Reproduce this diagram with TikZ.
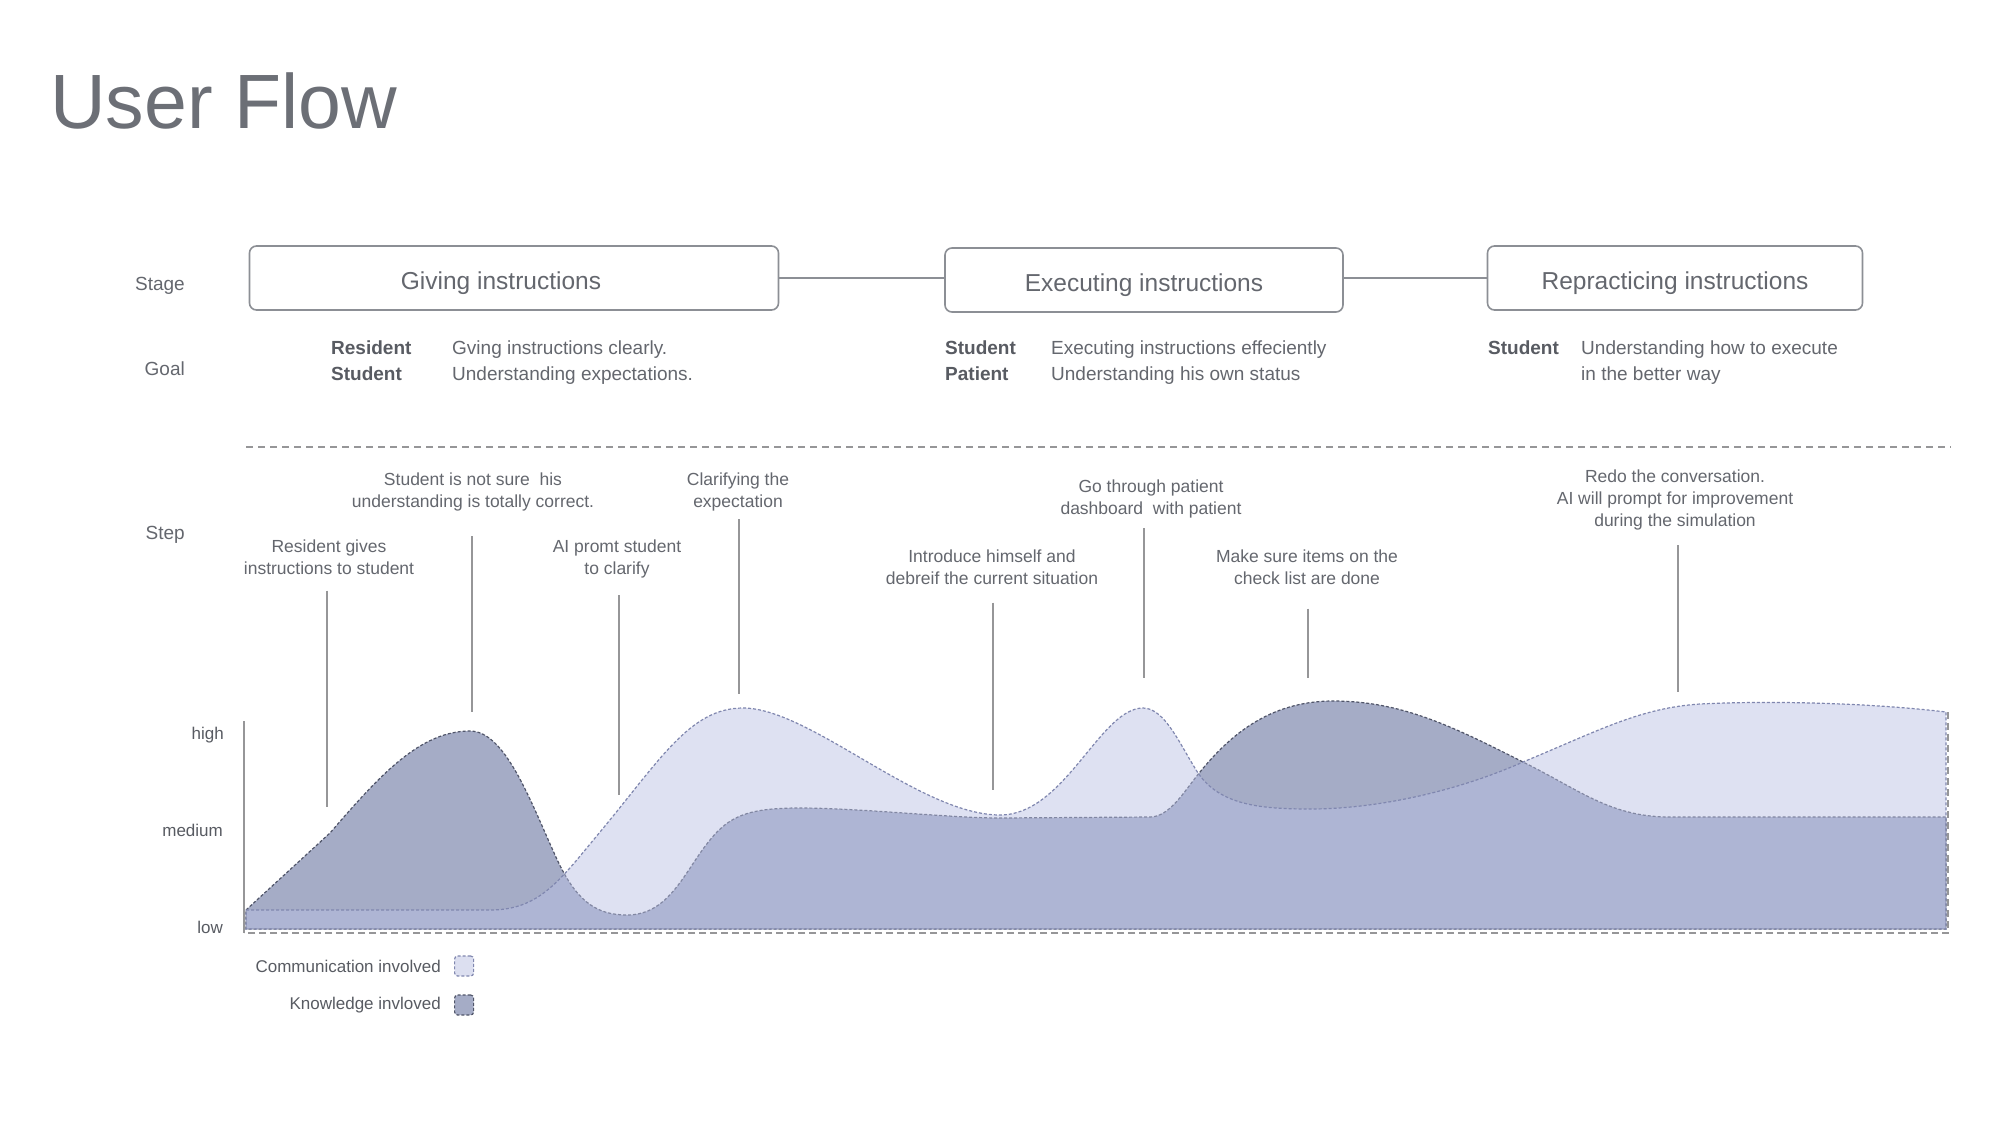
\documentclass[tikz,border=0pt]{standalone}
\usepackage{fontspec}
\setmainfont{Liberation Sans}
\usepackage{tikz}
\usetikzlibrary{positioning}

\definecolor{titlegrey}{RGB}{108,111,118}
\definecolor{txtgrey}{RGB}{100,103,110}
\definecolor{namegrey}{RGB}{88,91,98}
\definecolor{boxgrey}{RGB}{140,143,149}
\definecolor{linegrey}{RGB}{150,150,152}
\definecolor{kfill}{RGB}{165,172,198}
\definecolor{kline}{RGB}{80,85,105}
\definecolor{cfill}{RGB}{186,192,228}
\definecolor{cswatch}{RGB}{220,223,240}
\definecolor{cline}{RGB}{128,135,175}

\begin{document}
\begin{tikzpicture}[x=1pt, y=-1pt,  % 1pt 对应参考图的一个像素, y 轴向下
    stagebox/.style={draw=boxgrey, line width=1.6pt, rounded corners=7pt, minimum height=64pt,
        inner sep=0pt, text height=28pt, text depth=5pt, text=txtgrey, font=\fontsize{24.5}{29}\selectfont},
    rowlbl/.style={anchor=east, inner sep=0pt, text=txtgrey, font=\fontsize{19}{23}\selectfont},
    who/.style={anchor=base west, inner sep=0pt, text=namegrey, font=\bfseries\fontsize{19}{23}\selectfont},
    goaltxt/.style={anchor=base west, inner sep=0pt, text=txtgrey, font=\fontsize{19}{23}\selectfont},
    steplbl/.style={align=center, inner sep=0pt, text=txtgrey, font=\fontsize{17.5}{22}\selectfont},
    stepline/.style={draw=linegrey, line width=1.3pt},
    level/.style={anchor=east, inner sep=0pt, text=namegrey, font=\fontsize{17}{20}\selectfont},
    knowarea/.style={fill=kfill, draw=kline, line width=1.2pt, dash pattern=on 3pt off 2pt},
    commarea/.style={fill=cfill, fill opacity=0.47, draw=cline, draw opacity=1, line width=1.2pt, dash pattern=on 3pt off 2pt},
    swatch/.style={minimum width=19pt, minimum height=20pt, inner sep=0pt, rounded corners=3pt,
        line width=1.2pt, dash pattern=on 3pt off 2pt}
  ]
  \fill[white] (0,0) rectangle (2000,1125);  % 背景, 也固定了图的大小

  \node[anchor=base west, inner sep=0pt, text=titlegrey, font=\fontsize{77}{88}\selectfont] (title) at (50,128) {User Flow};

  % 左边的行标题
  \node[rowlbl] (stage) at (185,286) {Stage};
  \node[rowlbl] (goal) at (185,369) {Goal};
  \node[rowlbl] (step) at (185,535) {Step};

  % 三个阶段
  \node[stagebox, minimum width=529pt] (b1) at (514,278) {\hspace*{-26pt}Giving instructions};
  \node[stagebox, minimum width=398pt] (b2) at (1144,280) {Executing instructions};
  \node[stagebox, minimum width=375pt] (b3) at (1675,278) {Repracticing instructions};
  \draw[boxgrey, line width=1.5pt] (b1.east) -- (b1.east -| b2.west);
  \draw[boxgrey, line width=1.5pt] (b3.west -| b2.east) -- (b3.west);

  % 目标
  \node[who] (r1) at (331,354) {Resident};
  \node[who] (r2) at (331,380) {Student};
  \node[goaltxt] (g1) at (452,354) {Gving instructions clearly.};
  \node[goaltxt] (g2) at (452,380) {Understanding expectations.};
  \node[who] (r3) at (945,354) {Student};
  \node[who] (r4) at (945,380) {Patient};
  \node[goaltxt] (g3) at (1051,354) {Executing instructions effeciently};
  \node[goaltxt] (g4) at (1051,380) {Understanding his own status};
  \node[who] (r5) at (1488,354) {Student};
  \node[goaltxt] (g5) at (1581,354) {Understanding how to execute};
  \node[goaltxt] (g6) at (1581,380) {in the better way};

  \draw[linegrey, line width=1.3pt, dash pattern=on 7pt off 5pt] (246,447) -- (1951,447);

  % 步骤说明, 竖线往下指到曲线
  \node[steplbl] (s1) at (329,557) {Resident gives\\instructions to student};
  \node[steplbl] (s2) at (473,492) {Student is not sure\ \ his\\understanding is totally correct.};
  \node[steplbl] (s3) at (617,559) {AI promt student\\to clarify};
  \node[steplbl] (s4) at (738,492) {Clarifying the\\expectation};
  \node[steplbl] (s5) at (992,567) {Introduce himself and\\debreif the current situation};
  \node[steplbl] (s6) at (1151,499) {Go through patient\\dashboard\ \ with patient};
  \node[steplbl] (s7) at (1307,567) {Make sure items on the\\check list are done};
  \node[steplbl] (s8) at (1675,500) {Redo the conversation.\\AI will prompt for improvement\\during the simulation};

  \coordinate (e1) at (327,807);
  \coordinate (e2) at (472,712);
  \coordinate (e3) at (619,795);
  \coordinate (e4) at (739,694);
  \coordinate (e5) at (993,790);
  \coordinate (e6) at (1144,678);
  \coordinate (e7) at (1308,678);
  \coordinate (e8) at (1678,692);
  \draw[stepline] (s1.south -| e1) ++(0,16) -- (e1);
  \draw[stepline] (s2.south -| e2) ++(0,25) -- (e2);
  \draw[stepline] (s3.south -| e3) ++(0,17) -- (e3);
  \draw[stepline] (s4.south -| e4) ++(0,8) -- (e4);
  \draw[stepline] (s5.south -| e5) ++(0,18) -- (e5);
  \draw[stepline] (s6.south -| e6) ++(0,10) -- (e6);
  \draw[stepline] (s7.south -| e7) ++(0,24) -- (e7);
  \draw[stepline] (s8.south -| e8) ++(0,15) -- (e8);

  % Knowledge 曲线 (深色, 在下层)
  \path[knowarea] (246,910) -- (330,833)
    .. controls (380,775) and (420,731) .. (470,731)
    .. controls (505,731) and (530,800) .. (555,855)
    .. controls (575,900) and (595,915) .. (627,915)
    .. controls (670,915) and (685,870) .. (710,840)
    .. controls (730,815) and (750,808) .. (800,808)
    .. controls (860,808) and (950,818) .. (1000,818)
    -- (1150,817)
    .. controls (1170,817) and (1185,790) .. (1200,772)
    .. controls (1230,735) and (1270,701) .. (1333,701)
    .. controls (1400,701) and (1450,725) .. (1523,762)
    .. controls (1580,790) and (1610,817) .. (1670,817)
    -- (1946,817) -- (1946,929) -- (246,929) -- cycle;

  % Communication 曲线 (浅色, 半透明盖在上面)
  \path[commarea] (246,910) -- (490,910)
    .. controls (540,910) and (560,880) .. (600,832)
    .. controls (660,760) and (690,708) .. (743,708)
    .. controls (810,708) and (920,815) .. (1000,815)
    .. controls (1065,815) and (1100,708) .. (1143,708)
    .. controls (1165,708) and (1180,745) .. (1198,773)
    .. controls (1220,805) and (1260,809) .. (1310,809)
    .. controls (1380,809) and (1460,790) .. (1523,762)
    .. controls (1600,730) and (1640,708) .. (1700,704)
    .. controls (1780,700) and (1880,704) .. (1946,712)
    -- (1946,929) -- (246,929) -- cycle;

  \draw[linegrey, line width=1.2pt, dash pattern=on 7pt off 4pt] (1948,712) -- (1948,933) -- (244,933);
  \draw[linegrey, line width=1.3pt] (244,721) -- (244,933);

  \node[level] (hi) at (224,735) {high};
  \node[level] (md) at (223,830) {medium};
  \node[level] (lo) at (223,927) {low};

  % 图例
  \node[level] (lgc) at (441,966) {Communication involved};
  \node[swatch, fill=cswatch, draw=cline, right=13pt of lgc] (swc) {};
  \node[level] (lgk) at (441,1005) {Knowledge invloved};
  \node[swatch, fill=kfill, draw=kline, right=13pt of lgk] (swk) {};
\end{tikzpicture}
\end{document}
